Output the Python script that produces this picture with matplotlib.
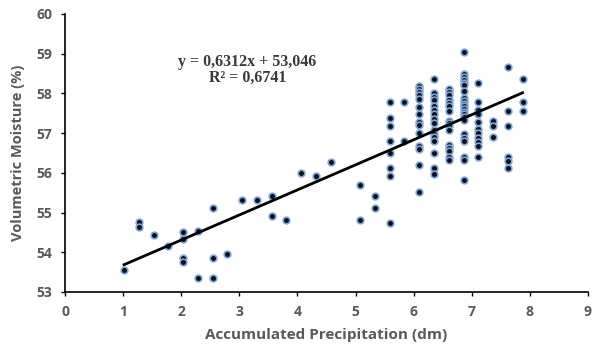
import matplotlib
matplotlib.use("Agg")
import matplotlib.pyplot as plt
import numpy as np

# Accumulated precipitation (dm) levels and volumetric moisture readings (%)
precip_levels = [1.016, 1.27, 1.524, 1.778, 2.032, 2.286, 2.54, 2.794, 3.048, 3.302,
                 3.556, 3.81, 4.064, 4.318, 4.572, 5.08, 5.334, 5.588, 5.842, 6.096,
                 6.35, 6.604, 6.858, 7.112, 7.366, 7.62, 7.874]
moisture_by_level = [
    [53.56],
    [54.75, 54.63],
    [54.44],
    [54.16],
    [54.52, 54.33, 53.86, 53.75],
    [54.53, 53.35],
    [55.12, 53.86, 53.35],
    [53.95],
    [55.32],
    [55.32],
    [55.42, 54.92],
    [54.82],
    [56.00],
    [55.91],
    [56.28],
    [55.70, 54.82],
    [55.41, 55.12],
    [57.78, 57.38, 57.19, 56.79, 56.50, 56.12, 55.91, 54.74],
    [57.78, 56.80],
    [58.19, 58.11, 58.04, 57.96, 57.85, 57.67, 57.48, 57.28, 57.20, 57.00, 56.68, 56.60, 56.20, 55.51],
    [58.37, 58.00, 57.92, 57.84, 57.69, 57.58, 57.48, 57.36, 57.26, 57.08, 56.97, 56.90, 56.81, 56.49, 56.12, 55.98],
    [58.11, 58.03, 57.96, 57.83, 57.75, 57.68, 57.57, 57.31, 57.25, 57.17, 57.07, 56.70, 56.63, 56.55, 56.40, 56.32],
    [59.04, 58.48, 58.42, 58.35, 58.27, 58.21, 58.07, 57.88, 57.81, 57.74, 57.68, 57.61, 57.54, 57.48, 57.40, 57.33, 56.97, 56.89, 56.81, 56.41, 56.32, 55.81],
    [58.26, 57.78, 57.58, 57.48, 57.27, 57.10, 57.01, 56.88, 56.78, 56.68, 56.39],
    [57.30, 57.18, 56.90],
    [58.66, 57.57, 57.19, 56.41, 56.30, 56.11],
    [58.37, 57.78, 57.57],
]
slope = 0.6312
intercept = 53.046
equation_text = "y = 0,6312x + 53,046\nR² = 0,6741"
x_ticks = [0, 1, 2, 3, 4, 5, 6, 7, 8, 9]
y_ticks = [53, 54, 55, 56, 57, 58, 59, 60]

xs, ys = [], []
for lv, vals in zip(precip_levels, moisture_by_level):
    for v in vals:
        xs.append(lv)
        ys.append(v)

plt.rcParams['font.family'] = ['Open Sans', 'DejaVu Sans']

fig = plt.figure(figsize=(5.95, 3.51), dpi=100)
ax = fig.add_axes([65/595, 1-292/351, (588-65)/595, (292-14)/351])

ax.plot(xs, ys, linestyle='none', marker='o', markersize=4.8,
        markerfacecolor='#0b0f1e', markeredgecolor='#7fa6d8', markeredgewidth=1.2, zorder=3)

xl = np.array([min(precip_levels), max(precip_levels)])
ax.plot(xl, slope*xl + intercept, color='black', linewidth=2.0, zorder=4)

ax.text(3.14, 58.60, equation_text, ha='center', va='center', fontsize=11.5,
        family=['Liberation Serif', 'DejaVu Serif'], color='#3a3a3a', linespacing=1.0,
        fontweight='semibold')

ax.set_xlim(0, 9)
ax.set_ylim(53, 60)
ax.set_xticks(x_ticks)
ax.set_yticks(y_ticks)
for s in ['top', 'right']:
    ax.spines[s].set_visible(False)
for s in ['left', 'bottom']:
    ax.spines[s].set_color('black')
    ax.spines[s].set_linewidth(1.2)
ax.tick_params(axis='both', direction='out', length=3, width=1, color='black',
               labelsize=10, labelcolor='#595959', pad=6)
for lab in ax.get_xticklabels() + ax.get_yticklabels():
    lab.set_fontweight('bold')

ax.set_xlabel('Accumulated Precipitation (dm)', fontsize=11, fontweight='bold', color='#595959', labelpad=7)
ax.set_ylabel('Volumetric Moisture (%)', fontsize=10.5, fontweight='bold', color='#595959', labelpad=8)

fig.savefig('out.png', dpi=100)
